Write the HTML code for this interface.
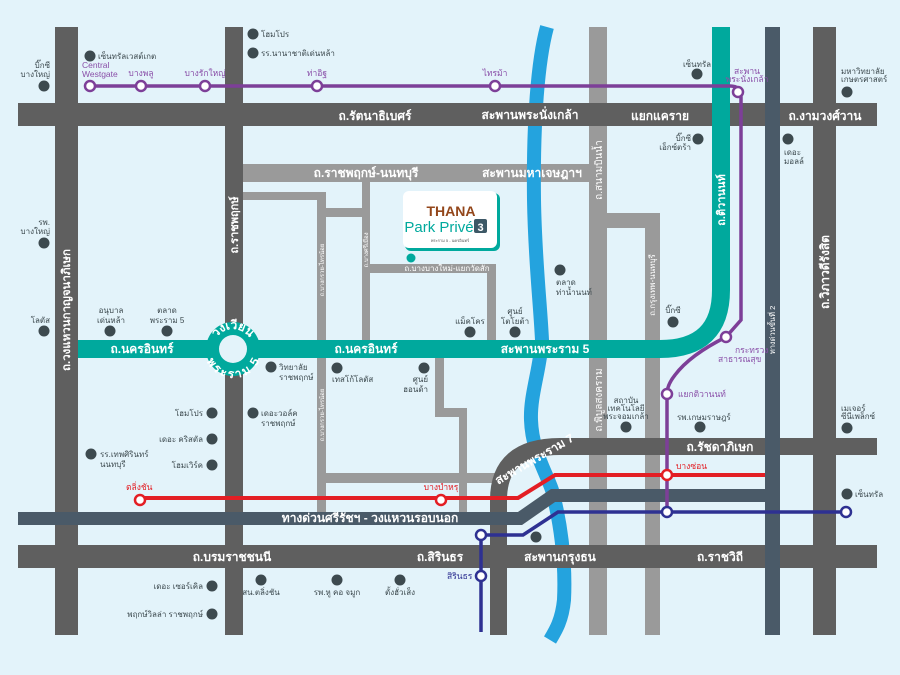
<!DOCTYPE html>
<html><head><meta charset="utf-8"><style>
body{margin:0;width:900px;height:675px;overflow:hidden;background:#e3f3fa}
svg{display:block}
text{font-family:"Liberation Sans","DejaVu Sans",sans-serif}
.w{fill:#fff;font-weight:bold;font-size:12px}
.ws{fill:#fff;font-size:8px}
.p{fill:#3d4a4f;font-size:8px}
.pu{fill:#8a4fa8;font-size:8.5px}
.r{fill:#e31e24;font-size:8.5px}
.b{fill:#2e3192;font-size:8.5px}
</style></head><body>
<svg width="900" height="675" viewBox="0 0 900 675">
<defs>
<path id="ringTop" d="M213,349 A20,20 0 0 1 253,349"/>
<path id="ringBot" d="M211,349 A22,22 0 0 0 255,349"/>
</defs>
<rect width="900" height="675" fill="#e3f3fa"/>
<g fill="#9a9a9a">
<rect x="243" y="164" width="364" height="18"/>
<rect x="589" y="27" width="18" height="608"/>
<rect x="243" y="192" width="83" height="8"/>
<rect x="317" y="192" width="9" height="320"/>
<rect x="326" y="208" width="40" height="9"/>
<rect x="362" y="182" width="8" height="160"/>
<rect x="362" y="264" width="134" height="9"/>
<rect x="487" y="264" width="9" height="78"/>
<rect x="435" y="356" width="9" height="60"/>
<rect x="435" y="408" width="32" height="9"/>
<rect x="459" y="408" width="8" height="104"/>
<rect x="326" y="473" width="171" height="10"/>
<rect x="607" y="213" width="53" height="15"/>
<rect x="645" y="213" width="15" height="422"/>
</g>
<path d="M547,27 C538,60 533,120 534,200 C535,260 540,300 542,340 C540,370 530,395 531,420 C532,450 545,470 552,490 C560,520 566,560 564,600 C562,620 556,630 550,640" fill="none" stroke="#24a3de" stroke-width="14"/>
<g fill="#5f5f5f">
<rect x="55" y="27" width="23" height="608"/>
<rect x="225" y="27" width="18" height="608"/>
<rect x="813" y="27" width="23" height="608"/>
<rect x="18" y="103" width="859" height="23"/>
<rect x="18" y="545" width="859" height="23"/>
<rect x="560" y="438" width="317" height="17"/>
</g>
<path d="M498.5,635 L498.5,500 Q498.5,446.5 560,446.5" fill="none" stroke="#5f5f5f" stroke-width="17"/>
<rect x="765" y="27" width="15" height="608" fill="#4a5a68"/>
<path d="M18,518.5 L520,518.5 L553,495.5 L765,495.5" fill="none" stroke="#4a5a68" stroke-width="13"/>
<path d="M78,349 L660,349 Q721,349 721,290 L721,27" fill="none" stroke="#00a99d" stroke-width="18"/>
<circle cx="233" cy="349" r="27" fill="#00a99d"/>
<circle cx="233" cy="349" r="14" fill="#e3f3fa"/>
<path d="M140,498 L518,498 L555,475 L765,475" fill="none" stroke="#e31e24" stroke-width="4"/>
<path d="M845,512 L558,512 L523,535 L481,535 L481,632" fill="none" stroke="#2e3192" stroke-width="3.5"/>
<path d="M90,86 L730,86 Q741,86 741,97 L741,320 L726,337 Q690,355 675,375 Q667,385 667,394 L667,512" fill="none" stroke="#7d3f98" stroke-width="3.5"/>
<g fill="#fff" stroke-width="2.5">
<g stroke="#7d3f98"><circle cx="90" cy="86" r="5"/><circle cx="141" cy="86" r="5"/><circle cx="205" cy="86" r="5"/><circle cx="317" cy="86" r="5"/><circle cx="495" cy="86" r="5"/><circle cx="738" cy="92" r="5"/><circle cx="726" cy="337" r="5"/><circle cx="667" cy="394" r="5"/></g>
<g stroke="#e31e24"><circle cx="140" cy="500" r="5"/><circle cx="441" cy="500" r="5"/><circle cx="667" cy="475" r="5"/></g>
<g stroke="#2e3192"><circle cx="667" cy="512" r="5"/><circle cx="846" cy="512" r="5"/><circle cx="481" cy="535" r="5"/><circle cx="481" cy="576" r="5"/></g>
</g>
<rect x="405" y="193" width="95" height="58" rx="6" fill="#00a99d"/>
<rect x="403" y="191" width="94" height="57" rx="6" fill="#fff"/>
<text x="451" y="216" text-anchor="middle" fill="#93461a" font-weight="bold" font-size="14">THANA</text>
<text x="439" y="232" text-anchor="middle" fill="#00a99d" font-size="15">Park Privé</text>
<rect x="474" y="219" width="13" height="14" rx="2" fill="#3d5866"/>
<text x="480.5" y="231" text-anchor="middle" fill="#fff" font-weight="bold" font-size="11">3</text>
<text x="450" y="242" text-anchor="middle" fill="#555" font-size="4">พระราม 5 - นครอินทร์</text>
<circle cx="411" cy="258" r="4.5" fill="#00a99d"/>
<text class="w" x="375" y="120" text-anchor="middle">ถ.รัตนาธิเบศร์</text>
<text class="w" x="530" y="119" text-anchor="middle" font-weight="normal" font-size="11">สะพานพระนั่งเกล้า</text>
<text class="w" x="660" y="120" text-anchor="middle" font-size="13">แยกแคราย</text>
<text class="w" x="825" y="120" text-anchor="middle">ถ.งามวงศ์วาน</text>
<text class="w" x="366" y="177" text-anchor="middle" font-size="10.5" font-weight="normal">ถ.ราชพฤกษ์-นนทบุรี</text>
<text class="w" x="532" y="177" text-anchor="middle" font-size="10.5" font-weight="normal">สะพานมหาเจษฎาฯ</text>
<text class="w" x="142" y="353" text-anchor="middle" font-size="11">ถ.นครอินทร์</text>
<text class="w" x="366" y="353" text-anchor="middle" font-size="11">ถ.นครอินทร์</text>
<text class="w" x="545" y="353" text-anchor="middle" font-size="11" font-weight="normal">สะพานพระราม 5</text>
<text class="w" x="720" y="451" text-anchor="middle">ถ.รัชดาภิเษก</text>
<text class="w" x="232" y="561" text-anchor="middle">ถ.บรมราชชนนี</text>
<text class="w" x="440" y="561" text-anchor="middle">ถ.สิรินธร</text>
<text class="w" x="560" y="561" text-anchor="middle" font-weight="normal" font-size="11">สะพานกรุงธน</text>
<text class="w" x="720" y="561" text-anchor="middle">ถ.ราชวิถี</text>
<text class="w" x="370" y="522" text-anchor="middle" font-size="9">ทางด่วนศรีรัชฯ - วงแหวนรอบนอก</text>
<text class="ws" x="447" y="271" text-anchor="middle" font-size="6">ถ.บางบางใหม่-แยกวัดสัก</text>
<text class="w" x="535" y="463" text-anchor="middle" font-size="8.5" font-weight="normal" transform="rotate(-30 535 460)">สะพานพระราม 7</text>
<text class="w" font-size="7.5"><textPath href="#ringTop" startOffset="50%" text-anchor="middle">วงเวียน</textPath></text>
<text class="w" font-size="7.5" dy="7"><textPath href="#ringBot" startOffset="50%" text-anchor="middle">พระราม 5</textPath></text>
<g class="w">
<text transform="translate(70,310) rotate(-90)" text-anchor="middle" font-size="11.5">ถ.วงแหวนกาญจนาภิเษก</text>
<text transform="translate(238,225) rotate(-90)" text-anchor="middle" font-size="11">ถ.ราชพฤกษ์</text>
<text transform="translate(602,170) rotate(-90)" text-anchor="middle" font-size="10" font-weight="normal">ถ.สนามบินน้ำ</text>
<text transform="translate(725,200) rotate(-90)" text-anchor="middle" font-size="11">ถ.ติวานนท์</text>
<text transform="translate(829,272) rotate(-90)" text-anchor="middle">ถ.วิภาวดีรังสิต</text>
<text transform="translate(602,400) rotate(-90)" text-anchor="middle" font-size="10" font-weight="normal">ถ.พิบูลสงคราม</text>
<text transform="translate(655,285) rotate(-90)" text-anchor="middle" font-size="8" font-weight="normal">ถ.กรุงเทพ-นนทบุรี</text>
<text transform="translate(775,330) rotate(-90)" text-anchor="middle" font-size="7.5" font-weight="normal">ทางด่วนขั้นที่ 2</text>
<text transform="translate(324,270) rotate(-90)" text-anchor="middle" font-size="6" font-weight="normal">ถ.บางกรวย-ไทรน้อย</text>
<text transform="translate(324,415) rotate(-90)" text-anchor="middle" font-size="6" font-weight="normal">ถ.บางกรวย-ไทรน้อย</text>
<text transform="translate(368,250) rotate(-90)" text-anchor="middle" font-size="6" font-weight="normal">ถ.บางศรีเมือง</text>
</g>
<text class="pu" x="82" y="68">Central</text><text class="pu" x="82" y="77">Westgate</text>
<text class="pu" x="141" y="76" text-anchor="middle">บางพลู</text>
<text class="pu" x="205" y="76" text-anchor="middle">บางรักใหญ่</text>
<text class="pu" x="317" y="76" text-anchor="middle">ท่าอิฐ</text>
<text class="pu" x="495" y="76" text-anchor="middle">ไทรม้า</text>
<text class="pu" x="747" y="74" text-anchor="middle" font-size="7.5">สะพาน</text><text class="pu" x="747" y="82" text-anchor="middle" font-size="7.5">พระนั่งเกล้า</text>
<text class="pu" x="735" y="353" font-size="8">กระทรวง</text><text class="pu" x="718" y="362" font-size="8">สาธารณสุข</text>
<text class="pu" x="678" y="397" font-size="8">แยกติวานนท์</text>
<text class="r" x="126" y="490">ตลิ่งชัน</text>
<text class="r" x="441" y="490" text-anchor="middle">บางบำหรุ</text>
<text class="r" x="676" y="469">บางซ่อน</text>
<text class="b" x="447" y="579">สิรินธร</text>
<g fill="#3d4a4f">
<circle cx="44" cy="86" r="5.5"/><circle cx="90" cy="56" r="5.5"/><circle cx="253" cy="34" r="5.5"/><circle cx="253" cy="53" r="5.5"/>
<circle cx="44" cy="243" r="5.5"/><circle cx="44" cy="331" r="5.5"/><circle cx="110" cy="331" r="5.5"/><circle cx="167" cy="331" r="5.5"/>
<circle cx="271" cy="367" r="5.5"/><circle cx="337" cy="368" r="5.5"/><circle cx="424" cy="368" r="5.5"/>
<circle cx="212" cy="413" r="5.5"/><circle cx="253" cy="413" r="5.5"/><circle cx="212" cy="439" r="5.5"/><circle cx="91" cy="454" r="5.5"/><circle cx="212" cy="465" r="5.5"/>
<circle cx="212" cy="586" r="5.5"/><circle cx="212" cy="614" r="5.5"/><circle cx="261" cy="580" r="5.5"/><circle cx="337" cy="580" r="5.5"/><circle cx="400" cy="580" r="5.5"/>
<circle cx="536" cy="537" r="5.5"/><circle cx="470" cy="332" r="5.5"/><circle cx="515" cy="332" r="5.5"/><circle cx="560" cy="270" r="5.5"/>
<circle cx="697" cy="74" r="5.5"/><circle cx="698" cy="139" r="5.5"/><circle cx="788" cy="139" r="5.5"/><circle cx="847" cy="92" r="5.5"/>
<circle cx="673" cy="322" r="5.5"/><circle cx="626" cy="427" r="5.5"/><circle cx="700" cy="427" r="5.5"/><circle cx="847" cy="428" r="5.5"/><circle cx="847" cy="494" r="5.5"/>
</g>
<g class="p">
<text x="50" y="68" text-anchor="end">บิ๊กซี</text><text x="50" y="77" text-anchor="end">บางใหญ่</text>
<text x="98" y="59">เซ็นทรัลเวสต์เกต</text>
<text x="261" y="37">โฮมโปร</text><text x="261" y="56">รร.นานาชาติเด่นหล้า</text>
<text x="50" y="225" text-anchor="end">รพ.</text><text x="50" y="234" text-anchor="end">บางใหญ่</text>
<text x="50" y="323" text-anchor="end">โลตัส</text>
<text x="111" y="313" text-anchor="middle">อนุบาล</text><text x="111" y="323" text-anchor="middle">เด่นหล้า</text>
<text x="167" y="313" text-anchor="middle">ตลาด</text><text x="167" y="323" text-anchor="middle">พระราม 5</text>
<text x="279" y="370">วิทยาลัย</text><text x="279" y="380">ราชพฤกษ์</text>
<text x="332" y="382">เทสโก้โลตัส</text>
<text x="428" y="382" text-anchor="end">ศูนย์</text><text x="428" y="392" text-anchor="end">ฮอนด้า</text>
<text x="203" y="416" text-anchor="end">โฮมโปร</text>
<text x="261" y="416">เดอะวอล์ค</text><text x="261" y="426">ราชพฤกษ์</text>
<text x="203" y="442" text-anchor="end">เดอะ คริสตัล</text>
<text x="100" y="457">รร.เทพศิรินทร์</text><text x="100" y="467">นนทบุรี</text>
<text x="203" y="468" text-anchor="end">โฮมเวิร์ค</text>
<text x="203" y="589" text-anchor="end">เดอะ เซอร์เคิล</text>
<text x="203" y="617" text-anchor="end">พฤกษ์วิลล่า ราชพฤกษ์</text>
<text x="261" y="595" text-anchor="middle">สน.ตลิ่งชัน</text>
<text x="337" y="595" text-anchor="middle">รพ.หู คอ จมูก</text>
<text x="400" y="595" text-anchor="middle">ตั้งฮั่วเส็ง</text>
<text x="470" y="324" text-anchor="middle">แม็คโคร</text>
<text x="515" y="314" text-anchor="middle">ศูนย์</text><text x="515" y="324" text-anchor="middle">โตโยต้า</text>
<text x="556" y="285">ตลาด</text><text x="556" y="295">ท่าน้ำนนท์</text>
<text x="697" y="67" text-anchor="middle">เซ็นทรัล</text>
<text x="691" y="141" text-anchor="end">บิ๊กซี</text><text x="691" y="150" text-anchor="end">เอ็กซ์ตร้า</text>
<text x="784" y="155">เดอะ</text><text x="784" y="164">มอลล์</text>
<text x="841" y="74">มหาวิทยาลัย</text><text x="841" y="82">เกษตรศาสตร์</text>
<text x="673" y="313" text-anchor="middle">บิ๊กซี</text>
<text x="626" y="403" text-anchor="middle">สถาบัน</text><text x="626" y="411" text-anchor="middle">เทคโนโลยี</text><text x="626" y="419" text-anchor="middle">พระจอมเกล้า</text>
<text x="677" y="420">รพ.เกษมราษฎร์</text>
<text x="841" y="411">เมเจอร์</text><text x="841" y="419">ซีนีเพล็กซ์</text>
<text x="855" y="497">เซ็นทรัล</text>
</g>
</svg>
</body></html>
